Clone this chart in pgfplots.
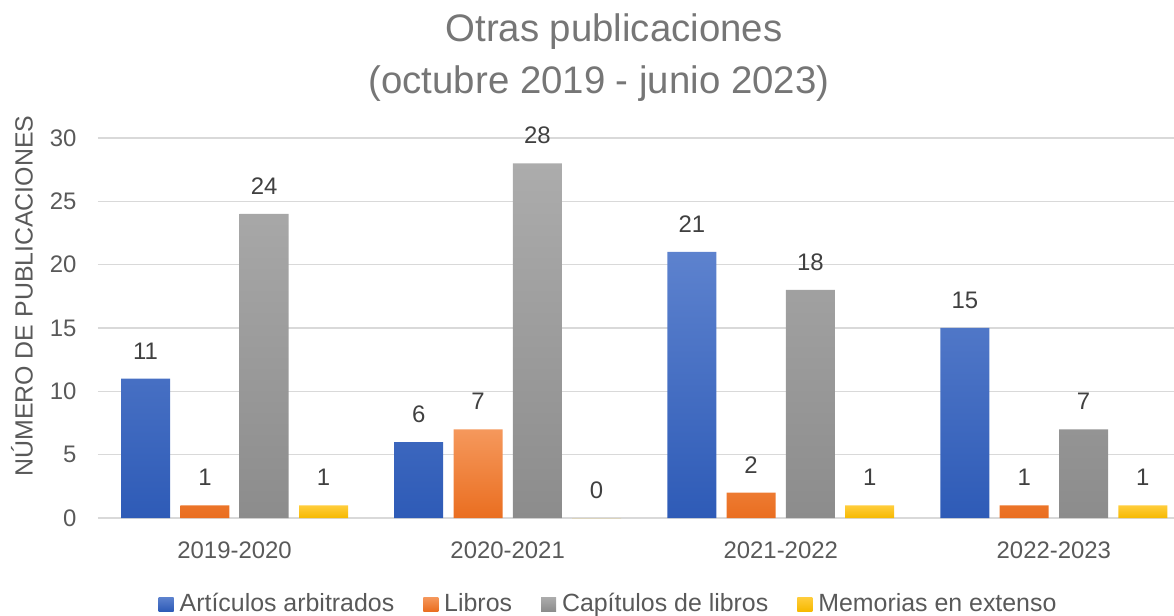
\documentclass[border=0pt]{standalone}
\usepackage{fontspec}
\setmainfont{Liberation Sans}
\usepackage{pgfplots}
\pgfplotsset{compat=1.18}
\definecolor{bluetop}{RGB}{93,130,206}
\definecolor{bluebot}{RGB}{46,91,183}
\definecolor{orgtop}{RGB}{245,152,92}
\definecolor{orgbot}{RGB}{234,110,32}
\definecolor{graytop}{RGB}{172,172,172}
\definecolor{graybot}{RGB}{140,140,140}
\definecolor{yeltop}{RGB}{255,205,60}
\definecolor{yelbot}{RGB}{246,185,0}
\definecolor{titlecol}{RGB}{118,118,118}
\definecolor{tickcol}{RGB}{89,89,89}
\definecolor{valcol}{RGB}{64,64,64}
\definecolor{gridcol}{RGB}{217,217,217}
\begin{document}
\begin{tikzpicture}
\useasboundingbox (-98bp,-98bp) rectangle (1076bp,518bp);
\begin{axis}[
  at={(0,0)}, anchor=south west,
  scale only axis, width=1076bp, height=380bp,
  xmin=-0.5, xmax=3.44, ymin=0, ymax=30,
  ybar=10.3bp, bar width=49bp,
  axis line style={draw=none},
  ytick={0,5,...,30},
  xtick={0,1,2,3},
  xticklabels={2019-2020,2020-2021,2021-2022,2022-2023},
  major tick length=0pt,
  ymajorgrids,
  grid style={draw=gridcol, line width=1.3bp},
  tick label style={font=\fontsize{24}{28}\selectfont, text=tickcol},
  xticklabel style={yshift=-20bp},
  yticklabel style={xshift=-18bp},
  /pgf/number format/assume math mode=true,
  ylabel={NÚMERO DE PUBLICACIONES},
  every axis y label/.style={at={(rel axis cs:0,0.584)}, xshift=-76bp, rotate=90, anchor=center, font=\fontsize{25}{28}\selectfont, text=tickcol},
  nodes near coords,
  every node near coord/.append style={font=\fontsize{24}{28}\selectfont, text=valcol, yshift=16bp},
  legend columns=4,
  legend style={at={(rel axis cs:0.4745,-0.224)}, anchor=center, draw=none, fill=none,
    font=\fontsize{25}{28}\selectfont, text=tickcol,
    /tikz/every even column/.append style={column sep=27bp}},
  legend image code/.code={\path[#1, draw=none] (0bp,-8bp) rectangle (15bp,6bp);\path (0bp,0bp) -- (19bp,0bp);},
]
\addplot[draw=none, top color=bluetop, bottom color=bluebot] coordinates {(0,11) (1,6) (2,21) (3,15)};
\addlegendentry{Artículos arbitrados}
\addplot[draw=none, top color=orgtop, bottom color=orgbot] coordinates {(0,1) (1,7) (2,2) (3,1)};
\addlegendentry{Libros}
\addplot[draw=none, top color=graytop, bottom color=graybot] coordinates {(0,24) (1,28) (2,18) (3,7)};
\addlegendentry{Capítulos de libros}
\addplot[draw=none, top color=yeltop, bottom color=yelbot] coordinates {(0,1) (1,0) (2,1) (3,1)};
\addlegendentry{Memorias en extenso}
\end{axis}
\node[font=\fontsize{38.5}{40}\selectfont, text=titlecol] at (516bp,486bp) {Otras publicaciones};
\node[font=\fontsize{38.5}{40}\selectfont, text=titlecol] at (501bp,434bp) {(octubre 2019 - junio 2023)};
\end{tikzpicture}
\end{document}
